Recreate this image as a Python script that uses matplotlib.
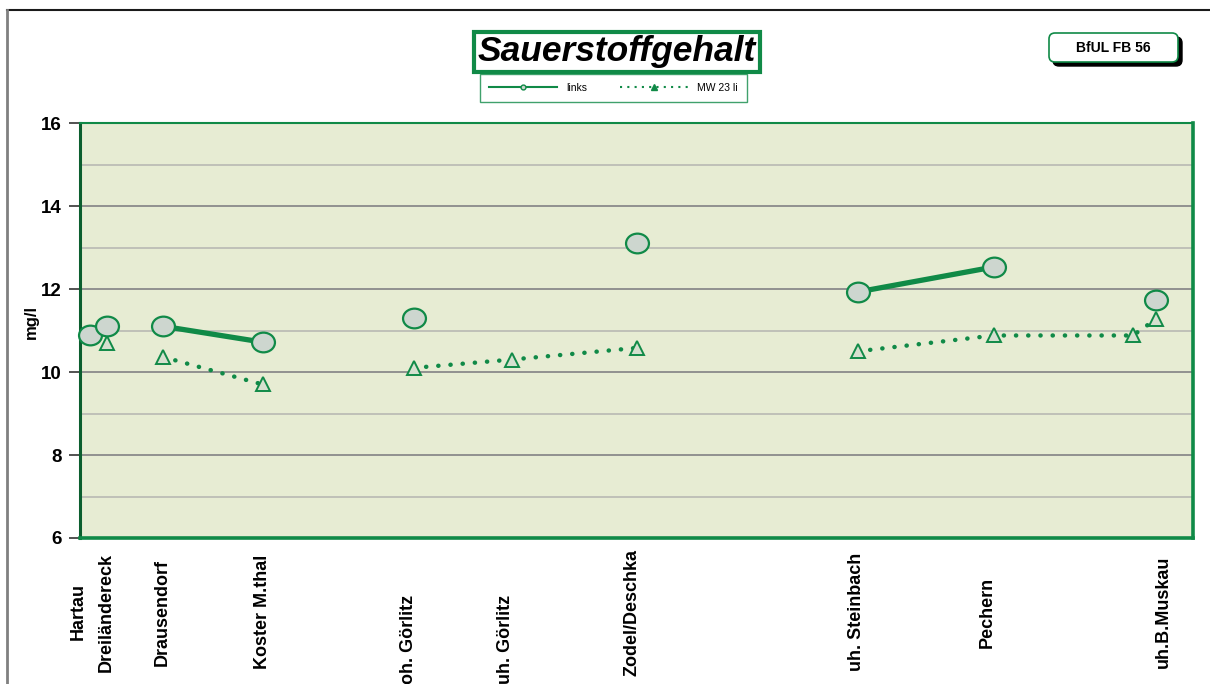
import matplotlib.pyplot as plt
import numpy as np
from matplotlib.lines import Line2D
from matplotlib.patches import FancyBboxPatch
from matplotlib.path import Path

plt.rcParams['font.family'] = ['Liberation Sans', 'DejaVu Sans']

# Messstellen (Flusskilometer-artige Position)
stations = ["Hartau", "Dreiländereck", "Drausendorf", "Koster M.thal", "oh. Görlitz",
            "uh. Görlitz", "Zodel/Deschka", "uh. Steinbach", "Pechern", "", "uh.B.Muskau"]
km = [0.9, 2.4, 7.5, 16.4, 30.0, 38.8, 50.0, 69.9, 82.1, 94.6, 96.7]
links = [10.9, 11.1, 11.1, 10.72, 11.3, np.nan, 13.1, 11.93, 12.53, np.nan, 11.73]
mw23 = [np.nan, 10.7, 10.36, 9.7, 10.1, 10.3, 10.58, 10.5, 10.88, 10.88, 11.28]
group = [0, 0, 1, 1, 2, 2, 2, 3, 3, 3, 3]
label_km = [-0.2, 2.4, 7.4, 16.4, 29.5, 38.2, 49.6, 69.8, 81.5, 97.3]

green = '#108A47'
bg = '#E7ECD3'

W, H = 1210, 684
fig = plt.figure(figsize=(W / 100, H / 100), dpi=100)
ax = fig.add_axes([80 / W, 1 - 538 / H, 1113 / W, 415 / H])
ax.set_facecolor(bg)

# elliptical marker
circ = Path.unit_circle()
ell = Path(circ.vertices * np.array([1.0, 0.86]), circ.codes)

km_a = np.array(km)
links_a = np.array(links)
mw_a = np.array(mw23)
group_a = np.array(group)
for g in np.unique(group_a):
    m = group_a == g
    ax.plot(km_a[m], mw_a[m], color=green, lw=3.2, ls=(0, (0.05, 2.7)),
            dash_capstyle='round', zorder=3)
    ax.plot(km_a[m], links_a[m], color=green, lw=3.8, solid_capstyle='butt', zorder=3)
ax.plot(km_a, mw_a, ls='none', marker='^', ms=10, mfc='#D6E0CF', mec=green, mew=1.4,
        zorder=4, clip_on=False)
ax.plot(km_a, links_a, ls='none', marker=ell, ms=16.5, mfc='#CDD6CF', mec=green, mew=1.6,
        zorder=5, clip_on=False)

ax.set_xlim(0, 100)
ax.set_ylim(6, 16)
ax.set_yticks([6, 8, 10, 12, 14, 16])
ax.set_yticks([7, 9, 11, 13, 15], minor=True)
ax.grid(True, which='major', axis='y', color='#8A8A8A', lw=1.3, zorder=1)
ax.grid(True, which='minor', axis='y', color='#B5B5B0', lw=1.1, zorder=1)
ax.set_axisbelow(True)
ax.set_xticks([])
ax.tick_params(axis='y', which='major', length=8, width=1.2, color='#333333',
               labelsize=13.5, pad=5)
ax.tick_params(axis='y', which='minor', length=0)
for lab in ax.get_yticklabels():
    lab.set_fontweight('bold')
ax.spines['left'].set_color('#0B5E2E')
ax.spines['left'].set_linewidth(2.2)
ax.spines['bottom'].set_color(green)
ax.spines['bottom'].set_linewidth(2.6)
ax.spines['right'].set_color(green)
ax.spines['right'].set_linewidth(2.6)
ax.spines['top'].set_color(green)
ax.spines['top'].set_linewidth(1.5)

ax.set_ylabel('mg/l', fontsize=12, fontweight='bold')
ax.yaxis.set_label_coords(-41 / 1113, 0.52)

# station labels below the axis
ytr = ax.get_xaxis_transform()
for name, xk in zip([s for s in stations if s], label_km):
    if 'Görlitz' in name:
        ax.text(xk, -57 / 415, name, rotation=90, fontsize=13, fontweight='bold',
                ha='center', va='top', transform=ytr, clip_on=False)
    else:
        ax.text(xk, -74 / 415, name, rotation=90, fontsize=13, fontweight='bold',
                ha='center', va='center', transform=ytr, clip_on=False)

# title box
fig.text(617 / W, 1 - 52 / H, 'Sauerstoffgehalt', fontsize=25.5, fontweight='bold',
         fontstyle='italic', ha='center', va='center',
         bbox=dict(boxstyle='square,pad=0.1', fc='white', ec=green, lw=3))

# legend
h1 = Line2D([], [], color=green, lw=1.5, marker='o', ms=3.5, mfc='#CDD6CF', mec=green)
h2 = Line2D([], [], color=green, lw=1.5, ls=(0, (1, 2.5)), marker='^', ms=4, mfc=green, mec=green)
leg = fig.legend([h1, h2], ['links', 'MW 23 li'], loc='center',
                 bbox_to_anchor=(613.5 / W, 1 - 88 / H), ncol=2, fontsize=7.5,
                 handlelength=6.5, columnspacing=3.2, frameon=True, fancybox=False,
                 borderpad=0.9, handletextpad=0.9, borderaxespad=0)
leg.get_frame().set_edgecolor(green)
leg.get_frame().set_linewidth(1)

# BfUL box with shadow
tr = fig.dpi_scale_trans
bx, by, bw, bh = 1049 / 100, (684 - 62) / 100, 129 / 100, 29 / 100
fig.patches.append(FancyBboxPatch((bx + 0.04, by - 0.04), bw, bh,
                                  boxstyle='round,pad=0,rounding_size=0.06',
                                  fc='black', ec='black', transform=tr, figure=fig))
fig.patches.append(FancyBboxPatch((bx, by), bw, bh,
                                  boxstyle='round,pad=0,rounding_size=0.06',
                                  fc='white', ec=green, lw=1.2, transform=tr, figure=fig))
fig.text((bx + bw / 2) / 12.1, (by + bh / 2) / 6.84, 'BfUL FB 56', fontsize=10,
         fontweight='bold', ha='center', va='center')

# outer frame lines
fig.add_artist(Line2D([7 / W, 1], [1 - 10 / H, 1 - 10 / H], color='#1A1A1A', lw=1.5,
                      transform=fig.transFigure))
fig.add_artist(Line2D([7 / W, 7 / W], [0, 1 - 10 / H], color='#808080', lw=2,
                      transform=fig.transFigure))

fig.savefig('out.png', dpi=100)
